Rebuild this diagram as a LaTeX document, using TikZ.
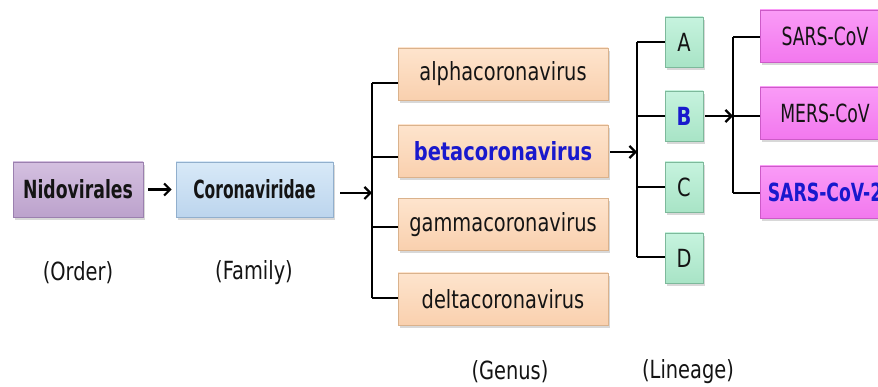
\documentclass[tikz,border=0pt]{standalone}
\usepackage{fontspec}
\usepackage{graphicx}
\setmainfont{DejaVu Sans}[FakeStretch=0.776]
\usetikzlibrary{arrows.meta,shadows}

\definecolor{ink}{RGB}{20,20,20}
\definecolor{hilite}{RGB}{25,25,205}
\definecolor{ordtop}{RGB}{212,192,224}\definecolor{ordbot}{RGB}{188,162,204}\definecolor{ordline}{RGB}{155,128,175}
\definecolor{famtop}{RGB}{216,233,248}\definecolor{fambot}{RGB}{188,213,237}\definecolor{famline}{RGB}{145,175,205}
\definecolor{gentop}{RGB}{254,228,205}\definecolor{genbot}{RGB}{249,208,174}\definecolor{genline}{RGB}{218,178,140}
\definecolor{lintop}{RGB}{198,243,222}\definecolor{linbot}{RGB}{168,228,198}\definecolor{linline}{RGB}{125,185,155}
\definecolor{virtop}{RGB}{250,155,247}\definecolor{virbot}{RGB}{242,120,238}\definecolor{virline}{RGB}{205,90,200}

% horizontal squeeze for labels that are set narrower
\newcommand\hsq[2]{\scalebox{#1}[1]{#2}}

\tikzset{
  taxbox/.style={rectangle, inner sep=0pt, line width=0.6pt, text=ink,
    font=\fontsize{25}{28}\selectfont,
    drop shadow={shadow xshift=2pt, shadow yshift=-3pt, opacity=0.3}},
  ordbox/.style={taxbox, draw=ordline, top color=ordtop, bottom color=ordbot,
    minimum width=130pt, minimum height=55pt},
  fambox/.style={taxbox, draw=famline, top color=famtop, bottom color=fambot,
    minimum width=157pt, minimum height=55pt},
  genbox/.style={taxbox, draw=genline, top color=gentop, bottom color=genbot,
    minimum width=210pt, minimum height=52pt},
  linbox/.style={taxbox, draw=linline, top color=lintop, bottom color=linbot,
    minimum width=38pt, minimum height=50pt},
  virbox/.style={taxbox, draw=virline, top color=virtop, bottom color=virbot,
    minimum width=130pt, minimum height=52pt},
  rank/.style={text=ink, inner sep=0pt, font=\fontsize{25}{28}\selectfont},
  conn/.style={line width=2.2pt, draw=black},
  arr/.style={conn, -{Straight Barb[length=6pt,width=12pt,line width=2.2pt]}}
}

\begin{document}
\begin{tikzpicture}[x=1pt,y=1pt]
\clip (0,0) rectangle (878,387);
\fill[white] (0,0) rectangle (878,387);

% order and family
\node[ordbox] (nido) at (78,197.5) {\hsq{0.89}{\textbf{Nidovirales}}};
\node[fambox] (corona) at (254.5,197.5) {\hsq{0.8}{\textbf{Coronaviridae}}};

% genera
\node[genbox] (alpha) at (503,313) {alphacoronavirus};
\node[genbox] (beta)  at (503,236) {\textcolor{hilite}{\textbf{betacoronavirus}}};
\node[genbox] (gamma) at (503,162.5) {gammacoronavirus};
\node[genbox] (delta) at (503,88) {deltacoronavirus};

% lineages
\node[linbox] (linA) at (684,345) {A};
\node[linbox] (linB) at (684,271) {\textcolor{hilite}{\textbf{B}}};
\node[linbox] (linC) at (684,200) {C};
\node[linbox] (linD) at (684,129) {D};

% viruses
\node[virbox] (sars)  at (825,351) {\hsq{0.89}{SARS-CoV}};
\node[virbox] (mers)  at (825,274) {\hsq{0.89}{MERS-CoV}};
\node[virbox] (sars2) at (825,195) {\hsq{0.89}{\textcolor{hilite}{\textbf{SARS-CoV-2}}}};

% rank captions
\node[rank] (ordlab) at (78,114) {(Order)};
\node[rank] (famlab) at (254,114) {(Family)};
\node[rank] (genlab) at (510,15) {(Genus)};
\node[rank] (linlab) at (688,15) {(Lineage)};

% bus points of the brackets
\coordinate (gbus) at (372,194);
\coordinate (g1) at (372,304);
\coordinate (g2) at (372,230);
\coordinate (g3) at (372,160);
\coordinate (g4) at (372,89);
\coordinate (lbus) at (637,235);
\coordinate (l1) at (637,345);
\coordinate (l2) at (637,271);
\coordinate (l3) at (637,200);
\coordinate (l4) at (637,130);
\coordinate (vbus) at (733,271);
\coordinate (v1) at (733,350);
\coordinate (v3) at (733,194);

% order -> family -> genera
\draw[arr, shorten <=5pt, shorten >=4pt] (nido.east) -- (corona.west);
\draw[arr, shorten <=7pt] (corona.east |- gbus) -- (gbus);
\draw[conn] (g1) -- (g4);
\draw[conn] (g1) -- (g1 -| alpha.west);
\draw[conn] (g2) -- (g2 -| beta.west);
\draw[conn] (g3) -- (g3 -| gamma.west);
\draw[conn] (g4) -- (g4 -| delta.west);

% betacoronavirus -> lineages
\draw[arr, shorten <=2pt] (beta.east |- lbus) -- (lbus);
\draw[conn] (l1) -- (l4);
\draw[conn] (l1) -- (linA.west |- l1);
\draw[conn] (l2) -- (linB.west |- l2);
\draw[conn] (l3) -- (linC.west |- l3);
\draw[conn] (l4) -- (linD.west |- l4);

% lineage B -> viruses
\draw[arr, shorten <=2pt] (linB.east |- vbus) -- (vbus);
\draw[conn] (v1) -- (v3);
\draw[conn] (v1) -- (sars.west |- v1);
\draw[conn] (vbus) -- (mers.west |- vbus);
\draw[conn] (v3) -- (sars2.west |- v3);
\end{tikzpicture}
\end{document}
